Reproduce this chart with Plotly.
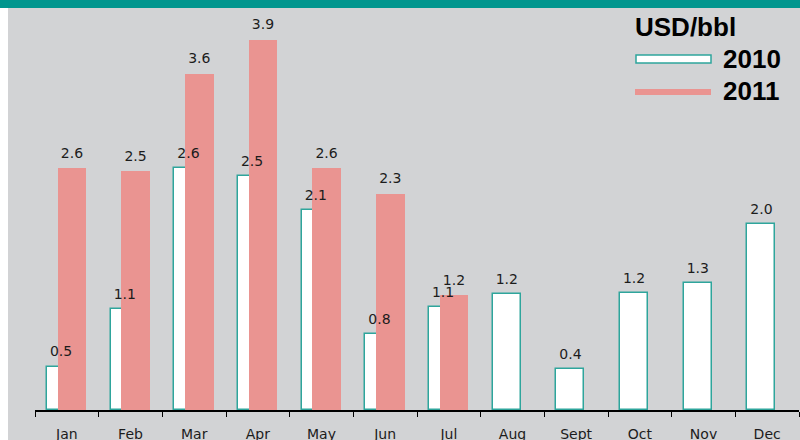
import plotly.graph_objects as go

months = ["Jan", "Feb", "Mar", "Apr", "May", "Jun", "Jul", "Aug", "Sept", "Oct", "Nov", "Dec"]
usd_2010 = [0.46, 1.07, 2.56, 2.48, 2.12, 0.80, 1.09, 1.23, 0.43, 1.24, 1.34, 1.97]
usd_2011 = [2.56, 2.53, 3.56, 3.92, 2.56, 2.29, 1.22]

_BG = "#d2d3d5"
_TEAL = "#00968e"
_OUTLINE = "#2ea59c"
_PINK = "#ea9491"
_TEXT = "#1c1c1c"

W, H = 800, 440
ML, MR, MT, MB = 35, 1, 8, 30
PW, PH = W - ML - MR, H - MT - MB

w10, off10 = 0.44, -0.31
w11, off11 = 0.45, -0.145

x10 = list(range(len(usd_2010)))
x11 = list(range(len(usd_2011)))


def px(x):  # pixel -> paper x
    return (x - ML) / PW


def py(y):  # pixel -> paper y
    return (H - MB - y) / PH


fig = go.Figure()
fig.add_trace(go.Bar(
    x=x10, y=usd_2010, width=w10, offset=off10,
    marker=dict(color="white", line=dict(color=_OUTLINE, width=1.5)),
    name="2010",
))
fig.add_trace(go.Bar(
    x=x11, y=usd_2011, width=w11, offset=off11,
    marker=dict(color=_PINK, line=dict(width=0)),
    name="2011",
))

# value labels on top of everything; the invisible marker lifts the text off the bar
label_font = dict(family="DejaVu Sans", size=14, color=_TEXT)
for xs, ys, off, w in [(x10, usd_2010, off10, w10), (x11, usd_2011, off11, w11)]:
    fig.add_trace(go.Scatter(
        x=[i + off + w / 2 for i in xs], y=ys,
        mode="markers+text", text=[f"{v:.1f}" for v in ys],
        marker=dict(size=9, color="rgba(0,0,0,0)"),
        textposition="top center", textfont=label_font, cliponaxis=False,
    ))

# frame: teal band on top, white strip on the left
shapes = [
    dict(type="rect", xref="paper", yref="paper", x0=px(0), x1=px(W), y0=py(MT), y1=py(0),
         fillcolor=_TEAL, line_width=0),
    dict(type="rect", xref="paper", yref="paper", x0=px(0), x1=px(8), y0=py(H), y1=py(MT),
         fillcolor="white", line_width=0),
    # legend keys
    dict(type="rect", xref="paper", yref="paper", x0=px(636), x1=px(711), y0=py(63), y1=py(55),
         fillcolor="white", line=dict(color=_OUTLINE, width=1.5)),
    dict(type="rect", xref="paper", yref="paper", x0=px(635), x1=px(711), y0=py(95), y1=py(89),
         fillcolor=_PINK, line_width=0),
]

legend_font = dict(family="Liberation Sans", color="black")
annotations = [
    dict(text="<b>USD/bbl</b>", x=px(633), y=py(27), xref="paper", yref="paper",
         xanchor="left", yanchor="middle", showarrow=False, font=dict(size=26, **legend_font)),
    dict(text="<b>2010</b>", x=px(721), y=py(59), xref="paper", yref="paper",
         xanchor="left", yanchor="middle", showarrow=False, font=dict(size=26, **legend_font)),
    dict(text="<b>2011</b>", x=px(721), y=py(91), xref="paper", yref="paper",
         xanchor="left", yanchor="middle", showarrow=False, font=dict(size=26, **legend_font)),
]

fig.update_layout(
    width=W, height=H,
    margin=dict(l=ML, r=MR, t=MT, b=MB),
    paper_bgcolor=_BG, plot_bgcolor=_BG,
    barmode="overlay",
    bargap=0,
    showlegend=False,
    shapes=shapes,
    annotations=annotations,
    xaxis=dict(
        range=[-0.5, len(months) - 0.5],
        tickvals=list(range(len(months))), ticktext=months,
        ticks="", showgrid=False, zeroline=False, automargin=False,
        showline=True, linecolor="black", linewidth=1.5,
        tickfont=dict(family="DejaVu Sans", size=14, color=_TEXT),
        ticklabelstandoff=10,
        minor=dict(ticks="outside", ticklen=5, tickwidth=1.2, tickcolor="black",
                   tick0=-0.5, dtick=1, showgrid=False),
    ),
    yaxis=dict(
        range=[0, PH / 94.5], automargin=False,
        showgrid=False, zeroline=False, showticklabels=False, ticks="",
    ),
)

fig.write_html("out.html", config={"displayModeBar": False},
               post_script="document.body.style.margin='0';")
